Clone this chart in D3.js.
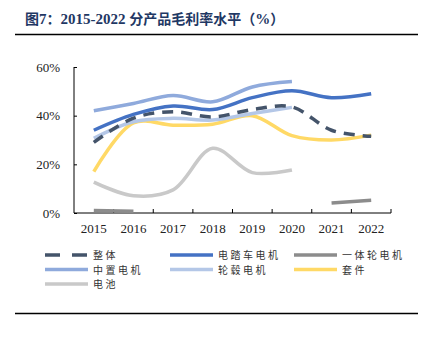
<!DOCTYPE html>
<html>
<head>
<meta charset="utf-8">
<script src="https://cdn.jsdelivr.net/npm/d3@7"></script>
<style>
  body { margin: 0; background: #fff; }
  svg text { font-family: "Liberation Serif", "Times New Roman", serif; }
  .cjk { font-family: "Noto Sans CJK SC", sans-serif; }
</style>
</head>
<body>
<div id="chart"></div>
<script>
// gross margin by product line, % (null = no data that year)
const years = ["2015", "2016", "2017", "2018", "2019", "2020", "2021", "2022"];
const overall   = [29, 39, 41.6, 39.5, 42.5, 43.6, 34, 31.5];
const midDrive  = [34, 40.5, 44, 42.5, 47.4, 50.2, 47.4, 49];
const oneWheel  = [1.0, 0.7, null, null, null, null, 4.1, 5.2];
const midMotor  = [42, 45, 48.3, 45.7, 51.8, 54, null, null];
const hubMotor  = [30.7, 37.5, 38.9, 38.2, 40.9, 43.4, null, null];
const kits      = [17, 37, 36.1, 36.5, 40, 31.8, 30, 32];
const battery   = [12.7, 7.1, 9.5, 26.6, 16.6, 17.7, null, null];
const yTicks = [0, 20, 40, 60];

const series = [
  {name: "整体",       values: overall,  color: "#44546A", dash: "11,8"},
  {name: "电踏车电机", values: midDrive, color: "#4472C4"},
  {name: "一体轮电机", values: oneWheel, color: "#8C8C8C"},
  {name: "中置电机",   values: midMotor, color: "#8FAADC"},
  {name: "轮毂电机",   values: hubMotor, color: "#B4C7E7"},
  {name: "套件",       values: kits,     color: "#FFD966"},
  {name: "电池",       values: battery,  color: "#C9C9C9"}
];
// draw order (back to front)
const drawOrder = [6, 2, 5, 4, 0, 1, 3];

const W = 424, H = 344;
let m = {left: 74, right: 33, top: 67, bottom: 131};
let width = W - m.left - m.right,
    height = H - m.top - m.bottom;

let svg = d3.select("#chart").append("svg")
    .attr("width", W)
    .attr("height", H);

// title (latin digits in serif) + rules
let title = svg.append("text")
    .attr("x", 25).attr("y", 24)
    .attr("fill", "#1F3864")
    .attr("font-size", 14)
    .attr("font-weight", "bold");
title.append("tspan").attr("class", "cjk").text("图");
title.append("tspan").attr("font-size", 15).text("7");
title.append("tspan").attr("class", "cjk").text("：");
title.append("tspan").attr("font-size", 15).text("2015-2022 ");
title.append("tspan").attr("class", "cjk").text("分产品毛利率水平（");
title.append("tspan").attr("font-size", 15).text("%");
title.append("tspan").attr("class", "cjk").text("）");

svg.append("line")
    .attr("x1", 15).attr("x2", 418).attr("y1", 34.5).attr("y2", 34.5)
    .attr("stroke", "#000").attr("stroke-width", 1.5);
svg.append("line")
    .attr("x1", 15).attr("x2", 418).attr("y1", 313.5).attr("y2", 313.5)
    .attr("stroke", "#000").attr("stroke-width", 1.5);

let vis = svg.append("g")
    .attr("transform", "translate(" + m.left + "," + m.top + ")");

let x = d3.scaleBand().domain(years).range([0, width]);
let y = d3.scaleLinear().domain([0, 60]).range([height, 0]);

// y axis, ticks pointing inward
let yAxis = vis.append("g")
    .call(d3.axisRight(y).tickValues(yTicks).tickSize(3).tickFormat(d => d + "%"));
yAxis.select(".domain").attr("stroke", "#000").attr("d", "M0,0V" + height);
yAxis.selectAll("text")
    .attr("x", -14).attr("text-anchor", "end")
    .attr("font-size", 13).attr("font-family", "Liberation Serif").attr("fill", "#222");

// x axis, ticks on band edges pointing up
let xAxis = vis.append("g")
    .attr("transform", "translate(0," + height + ")");
xAxis.append("line")
    .attr("x1", 0).attr("x2", width)
    .attr("stroke", "#000");
xAxis.selectAll(".edge")
    .data(years.slice(1).concat(["end"]))
    .enter().append("line")
    .attr("x1", (d, i) => x.step() * (i + 1))
    .attr("x2", (d, i) => x.step() * (i + 1))
    .attr("y1", 0).attr("y2", -4)
    .attr("stroke", "#000");
xAxis.selectAll(".lbl")
    .data(years)
    .enter().append("text")
    .attr("x", d => x(d) + x.bandwidth() / 2)
    .attr("y", 20)
    .attr("text-anchor", "middle")
    .attr("font-size", 13)
    .attr("fill", "#222")
    .text(d => d);

let line = d3.line()
    .defined(d => d.v != null)
    .x(d => x(d.year) + x.bandwidth() / 2)
    .y(d => y(d.v))
    .curve(d3.curveCatmullRom.alpha(0.5));

drawOrder.forEach(i => {
    let s = series[i];
    vis.append("path")
        .datum(years.map((yr, j) => ({year: yr, v: s.values[j]})))
        .attr("fill", "none")
        .attr("stroke", s.color)
        .attr("stroke-width", 3.5)
        .attr("stroke-dasharray", s.dash || null)
        .attr("d", line);
});

// legend, 3 columns
let legend = svg.append("g");
const colX = [45, 170, 294], rowY = [255, 269.5, 284];
series.forEach((s, i) => {
    let g = legend.append("g")
        .attr("transform", "translate(" + colX[i % 3] + "," + rowY[Math.floor(i / 3)] + ")");
    g.append("line")
        .attr("x1", 0).attr("x2", 43)
        .attr("stroke", s.color)
        .attr("stroke-width", 3.5)
        .attr("stroke-dasharray", s.dash ? "15,12" : null);
    g.append("text")
        .attr("class", "cjk")
        .attr("x", 48).attr("y", 4)
        .attr("font-size", 10)
        .attr("letter-spacing", 2.5)
        .attr("fill", "#333")
        .text(s.name);
});
</script>
</body>
</html>
